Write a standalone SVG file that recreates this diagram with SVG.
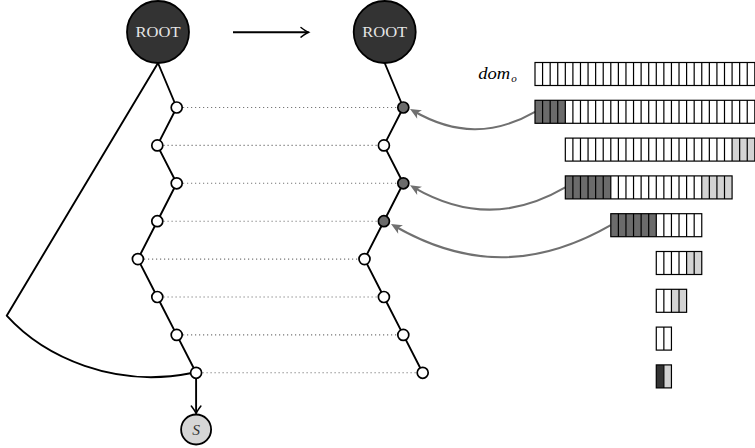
<svg xmlns="http://www.w3.org/2000/svg" width="755" height="448" viewBox="0 0 755 448">
<style>
.edge{fill:none;stroke:#000;stroke-width:1.9;stroke-linejoin:round}
.dot{fill:none;stroke:#777;stroke-width:1.1;stroke-dasharray:1.2 2.8}
.ptr{fill:none;stroke:#707070;stroke-width:2.1}
.root{fill:#333;stroke:#000;stroke-width:1.8}
.n{fill:#fff;stroke:#000;stroke-width:1.7}
.nd{fill:#6b6b6b;stroke:#000;stroke-width:1.7}
.rt{font-family:"Liberation Serif",serif;font-size:15px;fill:#e6e6e6;text-anchor:middle}
.bar{fill:none;stroke:#000;stroke-width:1.2}
.d{fill:#6b6b6b}
.l{fill:#d3d3d3}
.k{fill:#333}
.w{fill:#fff}
</style>
<defs>
<marker id="open" viewBox="-10 -7 12 14" markerWidth="12" markerHeight="14" refX="0" refY="0" orient="auto" markerUnits="userSpaceOnUse">
<path d="M-7.5,-4.8 Q-2.5,-1 0,0 Q-2.5,1 -7.5,4.8" fill="none" stroke="#000" stroke-width="1.5" stroke-linecap="round"/>
</marker>
<marker id="stealth" viewBox="-9 -6 14 12" markerWidth="14" markerHeight="12" refX="0" refY="0" orient="auto" markerUnits="userSpaceOnUse">
<path d="M4,0 L-7,-4.8 L-4,0 L-7,4.8 Z" fill="#707070"/>
</marker>
</defs>

<g id="connectors">
<path class="edge" d="M158,63 L176.7,107.5 L157.3,145.4 L176.7,183.3 L157.3,221.2 L137.9,259.1 L157.3,297 L176.7,334.9 L196.1,372.8"/>
<path class="edge" d="M158,63 L6.7,315.7 C45,358 115,388 190.5,373.3"/>
<path class="edge" d="M384.7,63 L403.3,107.5 L383.9,145.4 L403.3,183.3 L383.9,221.2 L364.5,259.1 L383.9,297 L403.3,334.9 L422.7,372.8"/>
<path class="edge" d="M196.1,378.3 L196.1,413.5" marker-end="url(#open)"/>
<path class="edge" d="M233,32.3 L308.5,32.3" marker-end="url(#open)"/>
<g id="dotted">
<path class="dot" d="M183,107.5 H397"/>
<path class="dot" d="M163.5,145.4 H377.5"/>
<path class="dot" d="M183,183.3 H397"/>
<path class="dot" d="M163.5,221.2 H377.5"/>
<path class="dot" d="M144,259.1 H358"/>
<path class="dot" d="M163.5,297 H377.5"/>
<path class="dot" d="M183,334.9 H397"/>
<path class="dot" d="M202.5,372.8 H416.5"/>
</g>
<path class="ptr" d="M535,111.8 C493.8,135.5 454.7,134.8 413.5,111" marker-end="url(#stealth)"/>
<path class="ptr" d="M565.3,187.4 C514.1,217.1 465.1,217.1 413.5,187.3" marker-end="url(#stealth)"/>
<path class="ptr" d="M610.8,225.2 C537.5,267.3 467.8,268.3 394.5,226" marker-end="url(#stealth)"/>
</g>

<g id="root-left"><circle class="root" cx="158" cy="32" r="31"/><text class="rt" x="158" y="37.3" textLength="45" lengthAdjust="spacingAndGlyphs">ROOT</text></g>
<g id="root-right"><circle class="root" cx="384.7" cy="32" r="31"/><text class="rt" x="384.7" y="37.3" textLength="45" lengthAdjust="spacingAndGlyphs">ROOT</text></g>

<g id="left-chain">
<g id="L1"><circle class="n" cx="176.7" cy="107.5" r="5.5"/></g>
<g id="L2"><circle class="n" cx="157.3" cy="145.4" r="5.5"/></g>
<g id="L3"><circle class="n" cx="176.7" cy="183.3" r="5.5"/></g>
<g id="L4"><circle class="n" cx="157.3" cy="221.2" r="5.5"/></g>
<g id="L5"><circle class="n" cx="137.9" cy="259.1" r="5.5"/></g>
<g id="L6"><circle class="n" cx="157.3" cy="297" r="5.5"/></g>
<g id="L7"><circle class="n" cx="176.7" cy="334.9" r="5.5"/></g>
<g id="L8"><circle class="n" cx="196.1" cy="372.8" r="5.5"/></g>
</g>
<g id="right-chain">
<g id="R1"><circle class="nd" cx="403.3" cy="107.5" r="5.5"/></g>
<g id="R2"><circle class="n" cx="383.9" cy="145.4" r="5.5"/></g>
<g id="R3"><circle class="nd" cx="403.3" cy="183.3" r="5.5"/></g>
<g id="R4"><circle class="nd" cx="383.9" cy="221.2" r="5.5"/></g>
<g id="R5"><circle class="n" cx="364.5" cy="259.1" r="5.5"/></g>
<g id="R6"><circle class="n" cx="383.9" cy="297" r="5.5"/></g>
<g id="R7"><circle class="n" cx="403.3" cy="334.9" r="5.5"/></g>
<g id="R8"><circle class="n" cx="422.7" cy="372.8" r="5.5"/></g>
</g>

<g id="S"><circle cx="196.1" cy="429.5" r="15" fill="#d6d6d6" stroke="#000" stroke-width="1.8"/><text x="196.1" y="434.6" font-family="Liberation Serif,serif" font-style="italic" font-size="15.5" fill="#333" text-anchor="middle">S</text></g>

<g id="dom-label"><text x="478.3" y="78.8" font-family="Liberation Serif,serif" font-style="italic" font-size="16.5" fill="#000" textLength="32" lengthAdjust="spacingAndGlyphs">dom</text><text x="511.3" y="81.8" font-family="Liberation Serif,serif" font-style="italic" font-size="11" fill="#000">o</text></g>

<g id="bars">
<g id="bar0">
<rect class="w" x="535" y="62.5" width="219.82" height="23"/>
<rect class="bar" x="535" y="62.5" width="219.82" height="23"/>
<path class="bar" d="M542.58,62.5v23m7.58-23v23m7.58-23v23m7.58-23v23m7.58-23v23m7.58-23v23m7.58-23v23m7.58-23v23m7.58-23v23m7.58-23v23m7.58-23v23m7.58-23v23m7.58-23v23m7.58-23v23m7.58-23v23m7.58-23v23m7.58-23v23m7.58-23v23m7.58-23v23m7.58-23v23m7.58-23v23m7.58-23v23m7.58-23v23m7.58-23v23m7.58-23v23m7.58-23v23m7.58-23v23m7.58-23v23"/>
</g>
<g id="bar1">
<rect class="w" x="535" y="100.3" width="219.82" height="23"/>
<rect class="d" x="535" y="100.3" width="30.32" height="23"/>
<rect class="bar" x="535" y="100.3" width="219.82" height="23"/>
<path class="bar" d="M542.58,100.3v23m7.58-23v23m7.58-23v23m7.58-23v23m7.58-23v23m7.58-23v23m7.58-23v23m7.58-23v23m7.58-23v23m7.58-23v23m7.58-23v23m7.58-23v23m7.58-23v23m7.58-23v23m7.58-23v23m7.58-23v23m7.58-23v23m7.58-23v23m7.58-23v23m7.58-23v23m7.58-23v23m7.58-23v23m7.58-23v23m7.58-23v23m7.58-23v23m7.58-23v23m7.58-23v23m7.58-23v23"/>
</g>
<g id="bar2">
<rect class="w" x="565.32" y="138.1" width="189.5" height="23"/>
<rect class="l" x="732.08" y="138.1" width="22.74" height="23"/>
<rect class="bar" x="565.32" y="138.1" width="189.5" height="23"/>
<path class="bar" d="M572.9,138.1v23m7.58-23v23m7.58-23v23m7.58-23v23m7.58-23v23m7.58-23v23m7.58-23v23m7.58-23v23m7.58-23v23m7.58-23v23m7.58-23v23m7.58-23v23m7.58-23v23m7.58-23v23m7.58-23v23m7.58-23v23m7.58-23v23m7.58-23v23m7.58-23v23m7.58-23v23m7.58-23v23m7.58-23v23m7.58-23v23m7.58-23v23"/>
</g>
<g id="bar3">
<rect class="w" x="565.32" y="175.9" width="166.76" height="23"/>
<rect class="d" x="565.32" y="175.9" width="45.48" height="23"/>
<rect class="l" x="701.76" y="175.9" width="30.32" height="23"/>
<rect class="bar" x="565.32" y="175.9" width="166.76" height="23"/>
<path class="bar" d="M572.9,175.9v23m7.58-23v23m7.58-23v23m7.58-23v23m7.58-23v23m7.58-23v23m7.58-23v23m7.58-23v23m7.58-23v23m7.58-23v23m7.58-23v23m7.58-23v23m7.58-23v23m7.58-23v23m7.58-23v23m7.58-23v23m7.58-23v23m7.58-23v23m7.58-23v23m7.58-23v23m7.58-23v23"/>
</g>
<g id="bar4">
<rect class="w" x="610.8" y="213.7" width="90.96" height="23"/>
<rect class="d" x="610.8" y="213.7" width="45.48" height="23"/>
<rect class="bar" x="610.8" y="213.7" width="90.96" height="23"/>
<path class="bar" d="M618.38,213.7v23m7.58-23v23m7.58-23v23m7.58-23v23m7.58-23v23m7.58-23v23m7.58-23v23m7.58-23v23m7.58-23v23m7.58-23v23m7.58-23v23"/>
</g>
<g id="bar5">
<rect class="w" x="656.28" y="251.5" width="45.48" height="23"/>
<rect class="l" x="686.6" y="251.5" width="15.16" height="23"/>
<rect class="bar" x="656.28" y="251.5" width="45.48" height="23"/>
<path class="bar" d="M663.86,251.5v23m7.58-23v23m7.58-23v23m7.58-23v23m7.58-23v23"/>
</g>
<g id="bar6">
<rect class="w" x="656.28" y="289.3" width="30.32" height="23"/>
<rect class="l" x="671.44" y="289.3" width="15.16" height="23"/>
<rect class="bar" x="656.28" y="289.3" width="30.32" height="23"/>
<path class="bar" d="M663.86,289.3v23m7.58-23v23m7.58-23v23"/>
</g>
<g id="bar7">
<rect class="w" x="656.28" y="327.1" width="15.16" height="23"/>
<rect class="bar" x="656.28" y="327.1" width="15.16" height="23"/>
<path class="bar" d="M663.86,327.1v23"/>
</g>
<g id="bar8">
<rect class="k" x="656.28" y="364.9" width="7.58" height="23"/>
<rect class="l" x="663.86" y="364.9" width="7.58" height="23"/>
<rect class="bar" x="656.28" y="364.9" width="15.16" height="23"/>
<path class="bar" d="M663.86,364.9v23"/>
</g>
</g>
</svg>
